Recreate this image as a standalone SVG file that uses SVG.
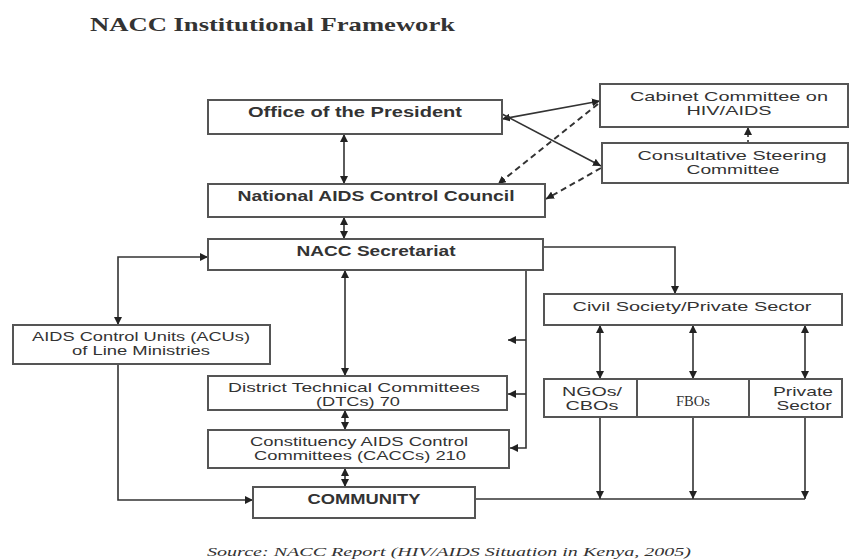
<svg xmlns="http://www.w3.org/2000/svg" width="853" height="560" viewBox="0 0 853 560">
<defs>
<marker id="ah" markerUnits="userSpaceOnUse" markerWidth="9" markerHeight="8" refX="8" refY="4" orient="auto-start-reverse">
<path d="M0,0 L8,4 L0,8 z" fill="#222"/>
</marker>
<style>
.box{fill:#fff;stroke:#555;stroke-width:2}
.t{font-family:"Liberation Sans",Arial,sans-serif;font-size:13px;fill:#333;text-anchor:middle}
.b{font-weight:bold;font-size:14px}
.s{font-family:"Liberation Serif","Times New Roman",serif;fill:#333}
.c{fill:none;stroke:#333;stroke-width:1.6}
.d{stroke-dasharray:6,4;stroke-width:2}
</style>
</defs>
<rect width="853" height="560" fill="#fff"/>
<text class="s" x="90" y="31" font-size="19" font-weight="bold" fill="#222" textLength="365" lengthAdjust="spacingAndGlyphs">NACC Institutional Framework</text>

<g id="connectors">
<path class="c" d="M344,134 V184" marker-start="url(#ah)" marker-end="url(#ah)"/>
<path class="c" d="M344,217 V239" marker-start="url(#ah)" marker-end="url(#ah)"/>
<path class="c" d="M502,119 L600,101" marker-start="url(#ah)" marker-end="url(#ah)"/>
<path class="c" d="M502,114 L601,166" marker-end="url(#ah)"/>
<path class="c d" d="M598,104 L498,184" marker-end="url(#ah)"/>
<path class="c d" d="M601,168 L546,199" marker-end="url(#ah)"/>
<path class="c" d="M748,143 V127" stroke-dasharray="3,3" marker-end="url(#ah)"/>
<path class="c" d="M208,257 H118 V325" marker-start="url(#ah)" marker-end="url(#ah)"/>
<path class="c" d="M543,247 H675 V294" marker-end="url(#ah)"/>
<path class="c" d="M345,270 V376" marker-start="url(#ah)" marker-end="url(#ah)"/>
<path class="c" d="M345,410 V430" marker-start="url(#ah)" marker-end="url(#ah)"/>
<path class="c" d="M345,468 V487" marker-start="url(#ah)" marker-end="url(#ah)"/>
<path class="c" d="M526,270 V448 H510" marker-end="url(#ah)"/>
<path class="c" d="M526,340 H508" marker-end="url(#ah)"/>
<path class="c" d="M526,394 H508" marker-end="url(#ah)"/>
<path class="c" d="M118,365 V500 H253" marker-end="url(#ah)"/>
<path class="c" d="M600,325 V379" marker-start="url(#ah)" marker-end="url(#ah)"/>
<path class="c" d="M693,325 V379" marker-start="url(#ah)" marker-end="url(#ah)"/>
<path class="c" d="M805,325 V379" marker-start="url(#ah)" marker-end="url(#ah)"/>
<path class="c" d="M600,417 V499" marker-end="url(#ah)"/>
<path class="c" d="M693,417 V499" marker-end="url(#ah)"/>
<path class="c" d="M805,417 V499" marker-end="url(#ah)"/>
<path class="c" d="M476,499 H805"/>
</g>

<g id="office">
<rect class="box" x="208" y="100" width="294" height="34"/>
<text class="t b" x="355" y="117" textLength="214" lengthAdjust="spacingAndGlyphs">Office of the President</text>
</g>
<g id="council">
<rect class="box" x="208" y="184" width="337" height="33"/>
<text class="t b" x="376" y="201" textLength="277" lengthAdjust="spacingAndGlyphs">National AIDS Control Council</text>
</g>
<g id="secretariat">
<rect class="box" x="208" y="239" width="335" height="31"/>
<text class="t b" x="376" y="256" textLength="159" lengthAdjust="spacingAndGlyphs">NACC Secretariat</text>
</g>
<g id="cabinet">
<rect class="box" x="600" y="84" width="248" height="43"/>
<text class="t" x="729" y="101" textLength="198" lengthAdjust="spacingAndGlyphs">Cabinet Committee on</text>
<text class="t" x="729" y="115" textLength="85" lengthAdjust="spacingAndGlyphs">HIV/AIDS</text>
</g>
<g id="steering">
<rect class="box" x="602" y="143" width="246" height="40"/>
<text class="t" x="732" y="160" textLength="189" lengthAdjust="spacingAndGlyphs">Consultative Steering</text>
<text class="t" x="733" y="174" textLength="93" lengthAdjust="spacingAndGlyphs">Committee</text>
</g>
<g id="acus">
<rect class="box" x="13" y="325" width="257" height="39"/>
<text class="t" x="141" y="341" textLength="218" lengthAdjust="spacingAndGlyphs">AIDS Control Units (ACUs)</text>
<text class="t" x="141" y="355" textLength="138" lengthAdjust="spacingAndGlyphs">of Line Ministries</text>
</g>
<g id="civil">
<rect class="box" x="544" y="294" width="298" height="31"/>
<text class="t" x="692" y="311" font-size="14" textLength="239" lengthAdjust="spacingAndGlyphs">Civil Society/Private Sector</text>
</g>
<g id="ngos">
<rect class="box" x="544" y="379" width="93" height="38"/>
<text class="t" x="592" y="396" textLength="60" lengthAdjust="spacingAndGlyphs">NGOs/</text>
<text class="t" x="592" y="410" textLength="53" lengthAdjust="spacingAndGlyphs">CBOs</text>
</g>
<g id="fbos">
<rect class="box" x="637" y="379" width="112" height="38"/>
<text class="s" x="693" y="406" font-size="14" text-anchor="middle" textLength="34" lengthAdjust="spacingAndGlyphs">FBOs</text>
</g>
<g id="private">
<rect class="box" x="749" y="379" width="93" height="38"/>
<text class="t" x="803" y="396" textLength="60" lengthAdjust="spacingAndGlyphs">Private</text>
<text class="t" x="804" y="410" textLength="55" lengthAdjust="spacingAndGlyphs">Sector</text>
</g>
<g id="dtcs">
<rect class="box" x="208" y="376" width="299" height="34"/>
<text class="t" x="354" y="392" textLength="252" lengthAdjust="spacingAndGlyphs">District Technical Committees</text>
<text class="t" x="358" y="406" textLength="84" lengthAdjust="spacingAndGlyphs">(DTCs) 70</text>
</g>
<g id="caccs">
<rect class="box" x="208" y="430" width="301" height="38"/>
<text class="t" x="359" y="446" textLength="218" lengthAdjust="spacingAndGlyphs">Constituency AIDS Control</text>
<text class="t" x="360" y="460" textLength="212" lengthAdjust="spacingAndGlyphs">Committees (CACCs) 210</text>
</g>
<g id="community">
<rect class="box" x="253" y="487" width="222" height="31"/>
<text class="t b" x="364" y="504" textLength="113" lengthAdjust="spacingAndGlyphs">COMMUNITY</text>
</g>
<text class="s" x="207" y="556" font-size="13" font-style="italic" textLength="484" lengthAdjust="spacingAndGlyphs">Source: NACC Report (HIV/AIDS Situation in Kenya, 2005)</text>
</svg>
